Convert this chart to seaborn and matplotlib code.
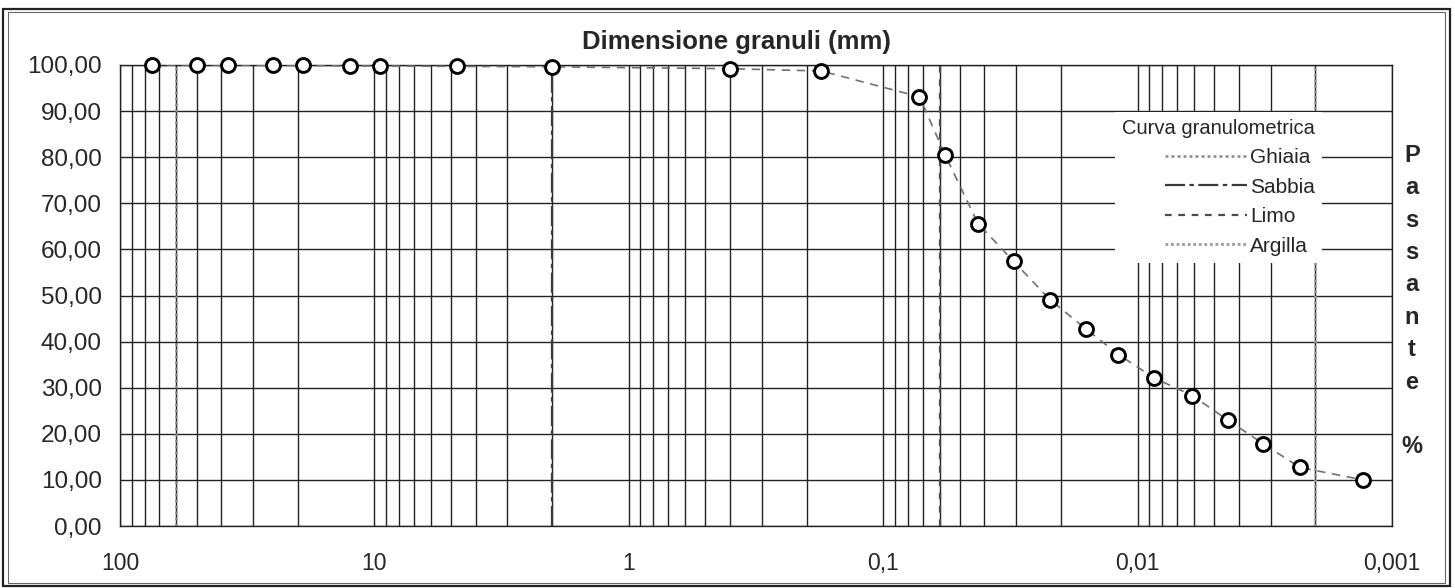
import matplotlib
matplotlib.use("Agg")
import matplotlib.pyplot as plt
import matplotlib.patches as mpatches
from matplotlib.ticker import FixedLocator, FixedFormatter, LogLocator, NullFormatter
import seaborn as sns
import pandas as pd

# Grain-size distribution: sieve + hydrometer results
diametro_mm = [75, 50, 37.5, 25, 19, 12.5, 9.5, 4.75, 2, 0.4, 0.175, 0.072,
               0.057, 0.0424, 0.0307, 0.0221, 0.016, 0.0119, 0.0086, 0.0061,
               0.0044, 0.0032, 0.0023, 0.0013]
passante = [100, 100, 100, 99.9, 99.9, 99.8, 99.8, 99.7, 99.6, 99.2, 98.7, 93.1,
            80.4, 65.6, 57.4, 49.1, 42.8, 37.2, 32.1, 28.3,
            22.9, 17.8, 12.7, 10.0]

# Soil-class boundaries (mm)
classi = ["Ghiaia", "Sabbia", "Limo", "Argilla"]
limiti_mm = [60, 2, 0.06, 0.002]

x_ticks = [100, 10, 1, 0.1, 0.01, 0.001]
x_labels = ["100", "10", "1", "0,1", "0,01", "0,001"]
y_ticks = [0, 10, 20, 30, 40, 50, 60, 70, 80, 90, 100]

sns.set_style("white")
plt.rcParams["font.family"] = ["Liberation Sans", "DejaVu Sans"]

W, H = 1455, 588
fig = plt.figure(figsize=(W / 100, H / 100), dpi=100)
ax = fig.add_axes([120 / W, 1 - 526 / H, 1272 / W, 461 / H])

ax.set_xscale("log")
ax.set_xlim(100, 0.001)
ax.set_ylim(0, 100)

grid_kw = dict(color="#222222", linewidth=1.0)
ax.xaxis.set_major_locator(FixedLocator(x_ticks))
ax.xaxis.set_major_formatter(FixedFormatter(x_labels))
ax.xaxis.set_minor_locator(LogLocator(base=10, subs=range(2, 10), numticks=20))
ax.xaxis.set_minor_formatter(NullFormatter())
ax.set_yticks(y_ticks)
ax.set_yticklabels([f"{v:.2f}".replace(".", ",") for v in y_ticks])
ax.grid(True, which="major", axis="both", **grid_kw)
ax.grid(True, which="minor", axis="x", **grid_kw)
ax.set_axisbelow(True)

for s in ax.spines.values():
    s.set_color("#222222")
    s.set_linewidth(1.0)

ax.tick_params(axis="both", which="both", direction="out", length=5,
               width=1.0, color="#222222")
ax.tick_params(axis="y", labelsize=17.5, pad=8)
ax.tick_params(axis="x", labelsize=16.5, pad=14)

# class boundary lines
stili = [
    dict(color="#8a8a8a", linestyle=(0, (1.2, 1.2)), linewidth=1.8),
    dict(color="#3a3a3a", linestyle=(0, (9, 2, 2, 2)), linewidth=1.6),
    dict(color="#4a4a4a", linestyle=(0, (3, 3)), linewidth=1.6),
    dict(color="#9a9a9a", linestyle=(0, (1, 1)), linewidth=2.0),
]
handles = []
for lim, st, nome in zip(limiti_mm, stili, classi):
    handles.append(ax.axvline(lim, ymin=0, ymax=1, zorder=2, label=nome, **st))

# grading curve
df = pd.DataFrame({"d": diametro_mm, "p": passante})
sns.lineplot(data=df, x="d", y="p", ax=ax, sort=False, color="#707070",
             linewidth=1.2, linestyle=(0, (5, 4)), zorder=3, legend=False)
sns.scatterplot(data=df, x="d", y="p", ax=ax, marker="o", s=100,
                facecolor="white", edgecolor="black", linewidth=2.1,
                zorder=4, legend=False, clip_on=False)
ax.set_xlabel("")
ax.set_ylabel("")

leg = ax.legend(handles=handles, labels=classi, title="Curva granulometrica",
                loc="upper right", bbox_to_anchor=(0.945, 0.899),
                frameon=True, facecolor="white", edgecolor="none",
                framealpha=1, fancybox=False, fontsize=15,
                title_fontsize=14.5, handlelength=3.9, handletextpad=0.15,
                labelspacing=0.5, borderpad=0.35, borderaxespad=0,
                alignment="right")
leg.set_zorder(5)

fig.text(736 / W, 1 - 42 / H, "Dimensione granuli (mm)", ha="center",
         va="center", fontsize=18.5, fontweight="bold")
fig.text(1412 / W, 1 - 144 / H, "P\na\ns\ns\na\nn\nt\ne\n\n%", ha="center",
         va="top", fontsize=17, fontweight="bold", linespacing=1.52)

# page frame
fig.patches.append(mpatches.Rectangle((3 / W, 2 / H), 1 - 8 / W, 1 - 11 / H,
                                      transform=fig.transFigure, fill=False,
                                      edgecolor="#222", linewidth=1.6))
fig.patches.append(mpatches.Rectangle((8 / W, 5 / H), 1 - 18 / W, 1 - 17 / H,
                                      transform=fig.transFigure, fill=False,
                                      edgecolor="#666", linewidth=0.8))

fig.savefig("out.png", dpi=100)
